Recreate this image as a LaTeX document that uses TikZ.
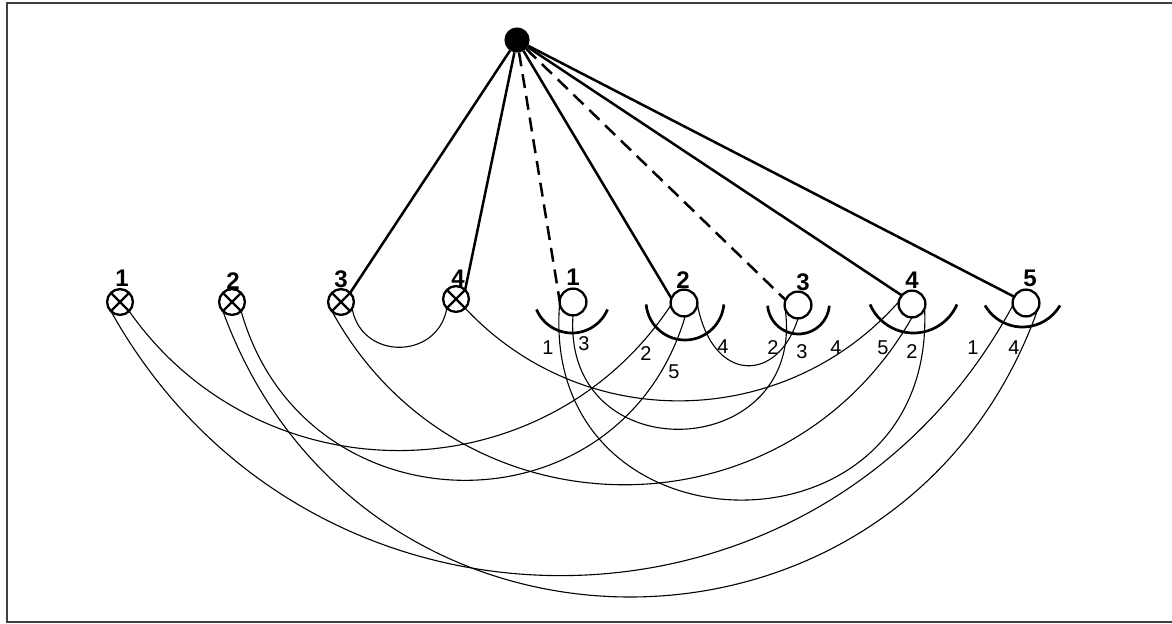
\documentclass[tikz,border=0pt]{standalone}
\usepackage{fontspec}
\setmainfont{Liberation Sans}
\usetikzlibrary{calc}
\begin{document}
\begin{tikzpicture}[x=0.5pt,y=-0.5pt,
  xcirc/.style={circle,draw,line width=1.15pt,minimum size=12.9pt,inner sep=0pt,outer sep=0pt},
  ocirc/.style={circle,draw,line width=1.15pt,minimum size=13.4pt,inner sep=0pt,outer sep=0pt},
  hub/.style={circle,fill,minimum size=12.6pt,inner sep=0pt,outer sep=0pt},
  spoke/.style={line width=1.25pt},
  dspoke/.style={line width=1.25pt,dash pattern=on 7pt off 4pt},
  wire/.style={line width=0.55pt},
  cup/.style={line width=1.35pt},
  toplab/.style={font=\fontsize{12}{14}\selectfont\bfseries,inner sep=0pt},
  endlab/.style={font=\fontsize{10}{12}\selectfont,inner sep=0pt},
  frame/.style={line width=1pt,draw=black!75}]
\useasboundingbox (0,0) rectangle (1172,623);
\draw[frame] (1176,3) -- (7,3) -- (7,621.5) -- (1176,621.5);

% hub
\node[hub] (hub) at (517,40) {};

% crossed circles
\node[xcirc] (L1) at (120,302) {};
\node[xcirc] (L2) at (232,302) {};
\node[xcirc] (L3) at (341,302) {};
\node[xcirc] (L4) at (456,299) {};
\foreach \n in {L1,L2,L3,L4}
  \draw[line width=1.15pt] (\n.45) -- (\n.225) (\n.135) -- (\n.315);

% open circles
\node[ocirc] (R1) at (573,302) {};
\node[ocirc] (R2) at (684,303) {};
\node[ocirc] (R3) at (798,305) {};
\node[ocirc] (R4) at (912,304) {};
\node[ocirc] (R5) at (1026,303) {};

% cups
\draw[cup] ([shift={(-1,-7.6)}]R1.center) ++(203:19.3pt) arc[start angle=203,end angle=337,radius=19.3pt];
\draw[cup] ([shift={(1,-2)}]R2.center) ++(185:19.5pt) arc[start angle=185,end angle=355,radius=19.5pt];
\draw[cup] ([shift={(0.5,-2)}]R3.center) ++(185:15.5pt) arc[start angle=185,end angle=355,radius=15.5pt];
\draw[cup] ([shift={(1.5,-18.4)}]R4.center) ++(203.4:23.7pt) arc[start angle=203.4,end angle=336.6,radius=23.7pt];
\draw[cup] ([shift={(-3.5,-19.4)}]R5.center) ++(210.2:21.7pt) arc[start angle=210.2,end angle=329.8,radius=21.7pt];

% spokes
\draw[spoke] (hub) -- (L3.45);
\draw[spoke] (hub) -- (L4.45);
\draw[dspoke] (hub) -- (R1.175);
\draw[spoke] (hub) -- (R2.160);
\draw[dspoke] (hub) -- (R3.158);
\draw[spoke] (hub) -- (R4.140);
\draw[spoke] (hub) -- (R5.152);

% wires
\draw[wire] (L3.330) .. controls +(9.2,52) and +(-9.2,52) .. (L4.225);
\draw[wire] (L1.225) .. controls +(198,355) and +(-193,358) .. (R5.190);
\draw[wire] (L2.225) .. controls +(140,384) and +(-134,386) .. (R5.350);
\draw[wire] (L1.315) .. controls +(132,188) and +(-127,191.5) .. (R2.190);
\draw[wire] (L2.315) .. controls +(62.7,222.5) and +(-65.7,221.7) .. (R2.275);
\draw[wire] (L3.225) .. controls +(125,228.4) and +(-128.9,226.2) .. (R4.270);
\draw[wire] (L4.315) .. controls +(118.1,126.3) and +(-114.6,129.5) .. (R4.170);
\draw[wire] (R1.185) .. controls +(-21.4,258.6) and +(11.5,259.2) .. (R4.340);
\draw[wire] (R1.270) .. controls +(-10.8,159.5) and +(25.7,157.7) .. (R3.180);
\draw[wire] (R2.355) .. controls +(15,80) and +(-20,65) .. (R3.270);

% top labels
\node[toplab] (tL1) at (122,278) {1};
\node[toplab] (tL2) at (233,281) {2};
\node[toplab] (tL3) at (341,279) {3};
\node[toplab] (tL4) at (458,278) {4};
\node[toplab] (tR1) at (573,277) {1};
\node[toplab] (tR2) at (683,280) {2};
\node[toplab] (tR3) at (803,282) {3};
\node[toplab] (tR4) at (912,280) {4};
\node[toplab] (tR5) at (1030,278) {5};

% end labels
\node[endlab] (e1) at (548,348) {1};
\node[endlab] (e2) at (584,344) {3};
\node[endlab] (e3) at (646,354) {2};
\node[endlab] (e4) at (674,372) {5};
\node[endlab] (e5) at (723,347) {4};
\node[endlab] (e6) at (773,348) {2};
\node[endlab] (e7) at (802,352) {3};
\node[endlab] (e8) at (836,348) {4};
\node[endlab] (e9) at (883,348) {5};
\node[endlab] (e10) at (912,352) {2};
\node[endlab] (e11) at (973,348) {1};
\node[endlab] (e12) at (1014,348) {4};
\end{tikzpicture}
\end{document}
